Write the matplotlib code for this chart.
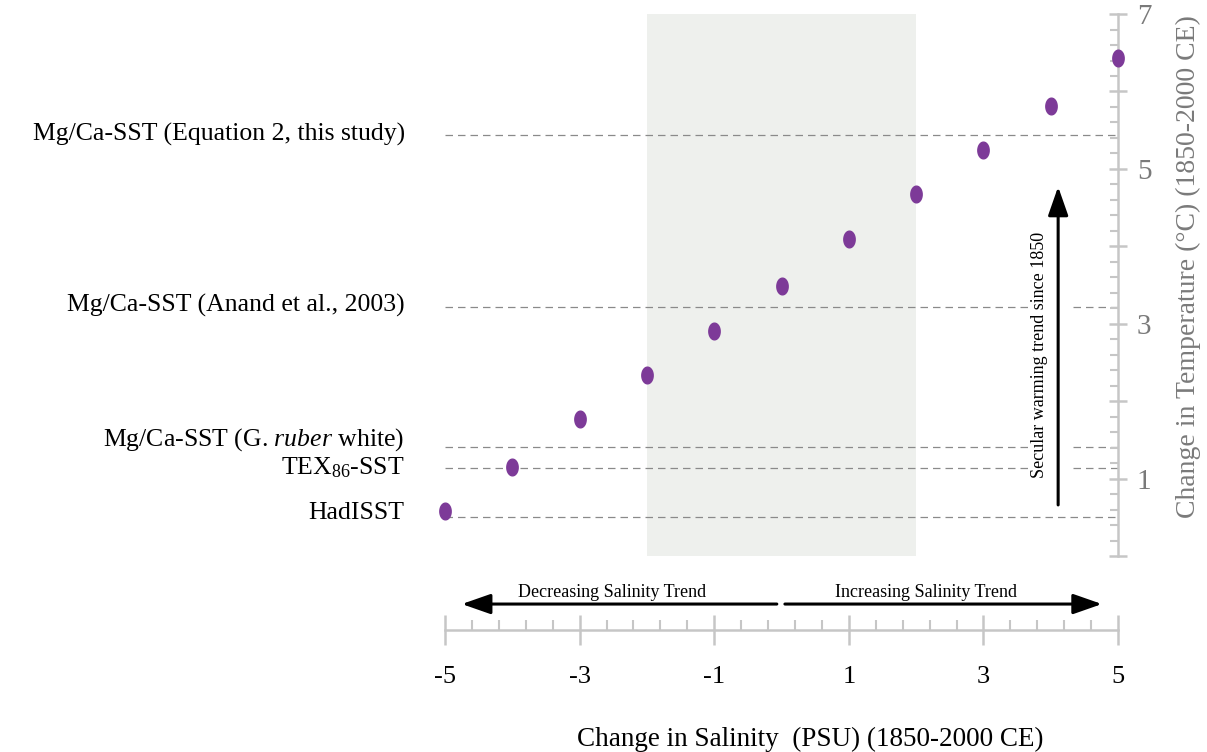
import numpy as np
import matplotlib
matplotlib.use('Agg')
import matplotlib.pyplot as plt
from matplotlib.path import Path
from matplotlib.ticker import FixedLocator, FuncFormatter

plt.rcParams['font.family'] = ['Liberation Serif', 'DejaVu Serif']
plt.rcParams['mathtext.fontset'] = 'custom'
plt.rcParams['mathtext.rm'] = 'Liberation Serif'
plt.rcParams['mathtext.it'] = 'Liberation Serif:italic'

# ------------------------------------------------------------
# Data
# ------------------------------------------------------------
salinity = [-5, -4, -3, -2, -1, 0, 1, 2, 3, 4, 5]
temp_change = [0.58, 1.15, 1.77, 2.34, 2.91, 3.49, 4.10, 4.68, 5.25, 5.81, 6.43]

ref_labels = [
    'Mg/Ca-SST (Equation 2, this study)',
    'Mg/Ca-SST (Anand et al., 2003)',
    r'Mg/Ca-SST (G. $\mathit{ruber}$ white)',
    r'TEX$_{\mathregular{86}}$-SST',
    'HadISST',
]
ref_values = [5.44, 3.22, 1.41, 1.14, 0.50]
label_nudge = [0, 1, 7, 0, 4]          # px nudges so labels do not collide

x_ticks = [-5, -3, -1, 1, 3, 5]
y_ticks = [0, 1, 2, 3, 4, 5, 6, 7]
shade_span = (-2, 2)

# colours
PURPLE = '#7d3a98'
AXIS_GREY = '#c6c6c6'
TEXT_GREY = '#7a7a7a'
SHADE = '#eef0ed'

fig = plt.figure(figsize=(12.07, 7.52), dpi=100)
ax = fig.add_axes([0.3687, 0.2606, 0.5576, 0.7207])
ax.set_xlim(-5, 5)
ax.set_ylim(0, 7)

# shaded window
ax.axvspan(*shade_span, color=SHADE, lw=0, zorder=0)

# ------------------------------------------------------------
# Reference lines (broken around the warming arrow)
# ------------------------------------------------------------
arrow_x, arrow_lo, arrow_hi = 4.11, 0.66, 4.77
gap = (3.68, 4.33)
dash = dict(color='#8a8a8a', lw=0.9, linestyle=(0, (6, 4)), zorder=1)
for val in ref_values:
    if arrow_lo < val < arrow_hi:
        ax.plot([-5, gap[0]], [val, val], **dash)
        ax.plot([gap[1], 5], [val, val], **dash)
    else:
        ax.plot([-5, 5], [val, val], **dash)

for lab, val, nud in zip(ref_labels, ref_values, label_nudge):
    ax.annotate(lab, xy=(-5.6, val), xytext=(0, nud * 0.72),
                textcoords='offset points', ha='right', va='center',
                fontsize=18.5, annotation_clip=False)

# ------------------------------------------------------------
# Points (upright ellipses)
# ------------------------------------------------------------
theta = np.linspace(0, 2 * np.pi, 64)
ellipse = Path(np.column_stack([0.68 * np.cos(theta), np.sin(theta)]))
ax.plot(salinity, temp_change, linestyle='none', marker=ellipse,
        markersize=12, color=PURPLE, clip_on=False, zorder=3)

# ------------------------------------------------------------
# Arrows and annotations
# ------------------------------------------------------------
head = '-|>,head_length=0.8,head_width=0.28'
ax.annotate('', xy=(arrow_x, arrow_hi), xytext=(arrow_x, arrow_lo),
            arrowprops=dict(arrowstyle=head, color='black', lw=2.2,
                            mutation_scale=22, shrinkA=0, shrinkB=0))
ax.text(3.84, 2.6, 'Secular warming trend since 1850', rotation=90,
        ha='center', va='center', fontsize=13)

trans = ax.get_xaxis_transform()
ax.annotate('', xy=(-4.75, -0.0886), xytext=(-0.07, -0.0886),
            xycoords=trans, textcoords=trans, annotation_clip=False,
            arrowprops=dict(arrowstyle=head, color='black', lw=2.2,
                            mutation_scale=22, shrinkA=0, shrinkB=0))
ax.annotate('', xy=(4.76, -0.0886), xytext=(0.05, -0.0886),
            xycoords=trans, textcoords=trans, annotation_clip=False,
            arrowprops=dict(arrowstyle=head, color='black', lw=2.2,
                            mutation_scale=22, shrinkA=0, shrinkB=0))
ax.text(-2.52, -0.068, 'Decreasing Salinity Trend', transform=trans,
        ha='center', va='center', fontsize=13)
ax.text(2.15, -0.068, 'Increasing Salinity Trend', transform=trans,
        ha='center', va='center', fontsize=13)

# ------------------------------------------------------------
# Axes styling
# ------------------------------------------------------------
for side in ['left', 'top']:
    ax.spines[side].set_visible(False)
ax.spines['bottom'].set_position(('outward', 53.3))
for side in ['bottom', 'right']:
    ax.spines[side].set_color(AXIS_GREY)
    ax.spines[side].set_linewidth(1.8)

ax.xaxis.set_major_locator(FixedLocator(x_ticks))
ax.xaxis.set_minor_locator(FixedLocator(np.arange(-5, 5.01, 0.4)))
ax.xaxis.set_major_formatter(FuncFormatter(lambda v, p: f'{v:.0f}'))
ax.tick_params(axis='x', which='major', direction='inout', length=21.6,
               width=1.8, color=AXIS_GREY, labelsize=19, pad=15,
               labelcolor='black')
ax.tick_params(axis='x', which='minor', direction='in', length=7.2,
               width=1.5, color=AXIS_GREY)

ax.yaxis.tick_right()
ax.yaxis.set_major_locator(FixedLocator(y_ticks))
ax.yaxis.set_minor_locator(FixedLocator(np.arange(0, 7.01, 0.2)))
ax.yaxis.set_major_formatter(
    FuncFormatter(lambda v, p: f'{v:.0f}' if int(round(v)) % 2 == 1 else ''))
ax.tick_params(axis='y', which='major', direction='inout', length=13,
               width=1.8, color=AXIS_GREY, labelsize=21, pad=7,
               labelcolor=TEXT_GREY)
ax.tick_params(axis='y', which='minor', direction='in', length=5.8,
               width=1.5, color=AXIS_GREY)

ax.yaxis.set_label_position('right')
ax.set_ylabel('Change in Temperature (°C) (1850-2000 CE)', fontsize=20,
              color=TEXT_GREY, rotation=90, va='center')
ax.yaxis.set_label_coords(1.104, 0.535)

ax.set_xlabel('Change in Salinity  (PSU) (1850-2000 CE)', fontsize=19.5)
ax.xaxis.set_label_coords(0.542, -0.315)

plt.savefig('out.png', dpi=100)
